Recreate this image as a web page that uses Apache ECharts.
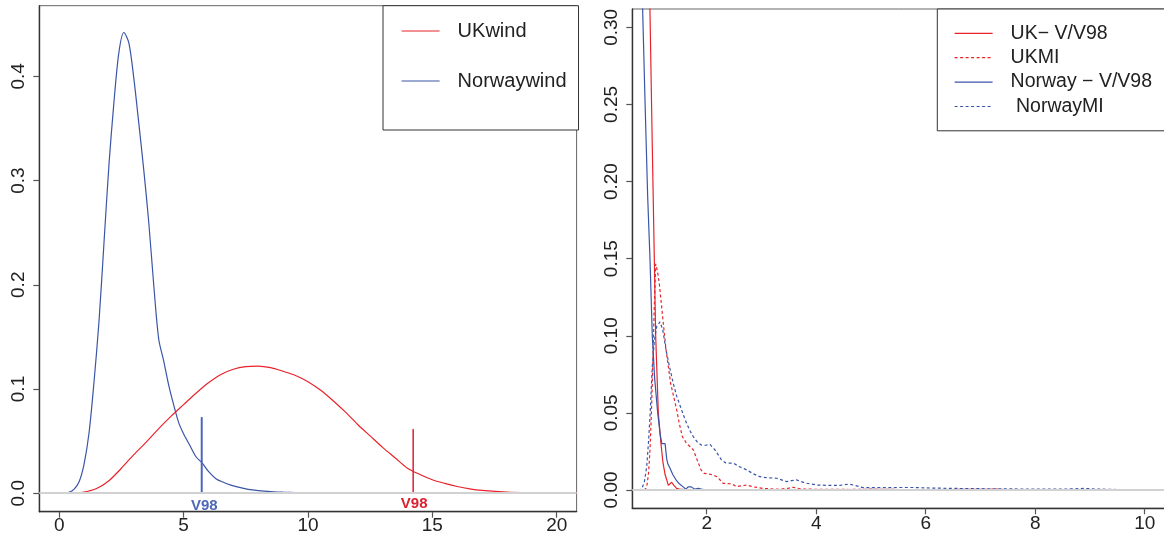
<!DOCTYPE html>
<html>
<head>
<meta charset="utf-8">
<script src="https://cdn.jsdelivr.net/npm/echarts@6.0.0/dist/echarts.min.js"></script>
<style>
html,body{margin:0;padding:0;background:#fff;}
#c{width:1164px;height:540px;}
</style>
</head>
<body>
<div id="c"></div>
<script>
// ---------------- data ----------------
// Left panel: wind speed densities
const ukWindX = [0.2,0.5,1.0,1.5,2.0,2.5,3.0,3.5,4.0,4.5,5.0,5.5,6.0,6.5,7.0,7.5,8.0,8.5,9.0,9.5,10.0,10.5,11.0,11.5,12.0,12.5,13.0,13.5,14.0,14.5,15.0,15.5,16.0,16.5,17.0,18.0,19.0,20.0,20.8];
const ukWindY = [0,0.0002,0.0012,0.0045,0.012,0.024,0.037,0.049,0.062,0.074,0.085,0.096,0.106,0.114,0.119,0.1215,0.122,0.1205,0.117,0.113,0.107,0.099,0.089,0.078,0.066,0.055,0.044,0.034,0.024,0.018,0.013,0.0095,0.0065,0.0042,0.0027,0.001,0.0004,0.0001,0.00005];

const norWindX = [0.12,0.4,0.6,0.8,1.0,1.2,1.4,1.6,1.8,2.0,2.2,2.4,2.6,2.8,3.0,3.2,3.4,3.6,3.8,4.0,4.2,4.4,4.6,4.8,5.0,5.25,5.5,5.75,6.0,6.3,6.6,6.9,7.2,7.6,8.0,8.5,9.0,10.0,11.0,11.77];
const norWindY = [0,0.001,0.004,0.011,0.028,0.058,0.107,0.165,0.24,0.315,0.375,0.423,0.442,0.432,0.398,0.355,0.31,0.26,0.2,0.148,0.127,0.104,0.085,0.068,0.057,0.046,0.035,0.029,0.021,0.014,0.0105,0.0078,0.0058,0.0038,0.0026,0.0016,0.001,0.0005,0.0002,0.0001];

// V98 markers (Norway, UK)
const v98X = [5.73, 14.23];
const v98Top = [0.0729, 0.0614];
const v98Labels = ['V98', 'V98'];

// Right panel: normalised densities
const ukRatioX = [0.85,0.93,0.964,1.0,1.043,1.068,1.116,1.165,1.2,1.24,1.3,1.33,1.36,1.4,1.45,1.5,1.6,1.7];
const ukRatioY = [1.0,0.4,0.31,0.235,0.15,0.10,0.05,0.03,0.018,0.01,0.003,0.0035,0.005,0.003,0.001,0.0005,0.0002,0.0001];

const norRatioX = [0.75,0.831,0.875,0.922,0.964,1.006,1.05,1.105,1.15,1.18,1.21,1.24,1.27,1.29,1.33,1.38,1.45,1.5,1.57,1.62,1.66,1.72,1.78,1.85,1.9,1.97];
const norRatioY = [0.6,0.31,0.25,0.19,0.15,0.10,0.072,0.05,0.036,0.03,0.031,0.03,0.02,0.017,0.014,0.01,0.006,0.004,0.002,0.0005,0.002,0.002,0.0005,0.001,0.0005,0];

const ukMIX = [0.65,0.85,0.89,0.915,0.94,0.964,0.985,1.006,1.037,1.068,1.1,1.134,1.165,1.196,1.257,1.342,1.4,1.452,1.5,1.555,1.635,1.7,1.755,1.82,1.896,1.95,2.03,2.1,2.19,2.3,2.45,2.55,2.65,2.73,2.85,3.03,3.34,3.5,3.58,3.7,3.8,4.2,4.6,5.0,5.5,6.0,6.5,7.0,7.3,7.45];
const ukMIY = [0,0,0.001,0.0043,0.012,0.026,0.045,0.069,0.112,0.1466,0.142,0.134,0.123,0.112,0.091,0.069,0.06,0.052,0.043,0.0346,0.030,0.028,0.026,0.02,0.013,0.0108,0.0104,0.0098,0.0086,0.0043,0.004,0.0022,0.0028,0.0032,0.002,0.001,0.0004,0.0012,0.0017,0.0008,0.0005,0.0004,0.0003,0.0005,0.0003,0.0002,0.0003,0.0004,0.0005,0.0002];

const norMIX = [0.65,0.75,0.81,0.86,0.904,0.935,0.964,0.985,1.006,1.045,1.087,1.147,1.196,1.257,1.32,1.39,1.45,1.5,1.57,1.635,1.7,1.755,1.83,1.91,1.98,2.06,2.15,2.27,2.35,2.49,2.6,2.73,2.85,2.97,3.1,3.28,3.46,3.55,3.64,3.8,4.01,4.2,4.43,4.6,4.7,4.85,5.2,5.55,5.8,6.0,6.5,7.0,7.5,8.0,8.5,8.9,9.1,9.5,10.0,10.9];
const norMIY = [0,0,0.0004,0.005,0.015,0.03,0.0475,0.064,0.08,0.097,0.106,0.109,0.104,0.0908,0.08,0.069,0.061,0.056,0.049,0.043,0.038,0.0346,0.031,0.029,0.029,0.0295,0.026,0.0195,0.0175,0.0173,0.015,0.013,0.0105,0.0086,0.0079,0.0076,0.0054,0.006,0.0065,0.0045,0.0032,0.003,0.003,0.0038,0.003,0.0015,0.0015,0.0016,0.0016,0.0013,0.001,0.0008,0.0007,0.0005,0.0005,0.001,0.0006,0.0003,0.0003,0.0002];

// tick labels
const leftXTicks = [0, 5, 10, 15, 20];
const leftYTicks = [0, 0.1, 0.2, 0.3, 0.4];
const rightXTicks = [2, 4, 6, 8, 10];
const rightYTicks = [0, 0.05, 0.10, 0.15, 0.20, 0.25, 0.30];

const leftLegend = ['UKwind', 'Norwaywind'];
const rightLegend = ['UK\u2212 V/V98', 'UKMI', 'Norway \u2212 V/V98', ' NorwayMI'];

// ---------------- chart ----------------
const zip = (xs, ys) => xs.map((x, i) => [x, ys[i]]);
const FONT = '"Liberation Sans", Arial, sans-serif';
const RED = '#e8232b';
const BLUE = '#3a55a8';
const TXT = '#222';

function xAxisCfg(grid, min, max, ticks, fmt, margin) {
  return {
    type: 'value', gridIndex: grid, min: min, max: max,
    axisLine: {show: true, onZero: false, lineStyle: {color: '#333', width: 1.4}},
    axisTick: {show: true, length: 6, customValues: ticks, lineStyle: {color: '#555', width: 1.2}},
    axisLabel: {show: true, customValues: ticks, formatter: fmt, fontSize: 19, fontFamily: FONT, color: TXT, margin: margin},
    splitLine: {show: false}
  };
}
function yAxisCfg(grid, min, max, ticks, fmt) {
  return {
    type: 'value', gridIndex: grid, min: min, max: max,
    axisLine: {show: true, onZero: false, lineStyle: {color: '#333', width: 1.4}},
    axisTick: {show: true, length: 6, customValues: ticks, lineStyle: {color: '#555', width: 1.2}},
    axisLabel: {show: true, customValues: ticks, formatter: fmt, rotate: 90, fontSize: 19, fontFamily: FONT, color: TXT, margin: 11},
    splitLine: {show: false}
  };
}
const zeroLine = {
  silent: true, symbol: 'none', animation: false,
  label: {show: false},
  lineStyle: {color: '#d2d2d2', width: 2, type: 'solid'},
  data: [{yAxis: 0}]
};

function v98Series(i, color, width, dist, off) {
  return {
    name: 'v98_' + i, type: 'line', xAxisIndex: 0, yAxisIndex: 0,
    symbol: 'circle', symbolSize: 1, showSymbol: true,
    lineStyle: {color: color, width: width}, itemStyle: {color: color},
    data: [
      {value: [v98X[i], 0], label: {show: true, position: 'bottom', distance: dist, offset: off, formatter: v98Labels[i],
        color: color, fontWeight: 'bold', fontSize: 15, fontFamily: FONT}},
      {value: [v98X[i], v98Top[i]]}
    ],
    z: 3
  };
}

const legendBase = {
  orient: 'vertical', selectedMode: false, itemWidth: 38, itemHeight: 20,
  borderColor: '#333', borderWidth: 1, backgroundColor: '#fff',
  itemStyle: {opacity: 0}, lineStyle: {width: 1.2}
};

const option = {
  animation: false,
  backgroundColor: '#fff',
  grid: [
    {left: 39.3, top: 5.7, width: 537.3, height: 506, show: true, borderColor: '#666', borderWidth: 1, containLabel: false, outerBoundsMode: 'none'},
    {left: 632.3, top: 9, width: 560, height: 499.3, show: true, borderColor: '#666', borderWidth: 1, containLabel: false, outerBoundsMode: 'none'}
  ],
  xAxis: [
    xAxisCfg(0, -0.8, 20.8, leftXTicks, v => String(v), 5),
    xAxisCfg(1, 0.641, 0.641 + 560 / 54.75, rightXTicks, v => String(v), 6)
  ],
  yAxis: [
    yAxisCfg(0, -0.0177, 0.4677, leftYTicks, v => v.toFixed(1)),
    yAxisCfg(1, -0.0119, 0.3119, rightYTicks, v => v.toFixed(2))
  ],
  legend: [
    Object.assign({}, legendBase, {
      data: leftLegend, left: 383, top: 5.7, padding: [15.3, 12, 39, 18], itemGap: 30,
      textStyle: {fontSize: 20, fontFamily: FONT, color: TXT, lineHeight: 20, padding: [0, 0, 0, 13]}
    }),
    Object.assign({}, legendBase, {
      data: rightLegend, left: 937.3, top: 9, padding: [14.3, 30, 14.3, 16.7], itemGap: 4.4,
      textStyle: {fontSize: 19.5, fontFamily: FONT, color: TXT, lineHeight: 20, padding: [0, 0, 0, 13]}
    })
  ],
  series: [
    {name: leftLegend[0], type: 'line', xAxisIndex: 0, yAxisIndex: 0, data: zip(ukWindX, ukWindY),
      symbol: 'none', showSymbol: false, smooth: 0.3, lineStyle: {color: RED, width: 1.2}, itemStyle: {color: RED},
      markLine: zeroLine, z: 2},
    {name: leftLegend[1], type: 'line', xAxisIndex: 0, yAxisIndex: 0, data: zip(norWindX, norWindY),
      symbol: 'none', showSymbol: false, smooth: 0.3, lineStyle: {color: BLUE, width: 1.2}, itemStyle: {color: BLUE}, z: 2},
    v98Series(0, '#4d68b8', 2, 5, [2.6, 0]),
    v98Series(1, '#dd2030', 1.5, 2.5, [1, 0]),
    {name: rightLegend[0], type: 'line', xAxisIndex: 1, yAxisIndex: 1, data: zip(ukRatioX, ukRatioY), clip: true,
      symbol: 'none', showSymbol: false, lineStyle: {color: RED, width: 1.2}, itemStyle: {color: RED},
      markLine: zeroLine, z: 2},
    {name: rightLegend[1], type: 'line', xAxisIndex: 1, yAxisIndex: 1, data: zip(ukMIX, ukMIY), clip: true,
      symbol: 'none', showSymbol: false, lineStyle: {color: RED, width: 1.2, type: [3, 2.5]}, itemStyle: {color: RED}, z: 2},
    {name: rightLegend[2], type: 'line', xAxisIndex: 1, yAxisIndex: 1, data: zip(norRatioX, norRatioY), clip: true,
      symbol: 'none', showSymbol: false, lineStyle: {color: BLUE, width: 1.2}, itemStyle: {color: BLUE}, z: 2},
    {name: rightLegend[3], type: 'line', xAxisIndex: 1, yAxisIndex: 1, data: zip(norMIX, norMIY), clip: true,
      symbol: 'none', showSymbol: false, lineStyle: {color: BLUE, width: 1.2, type: [3, 2.5]}, itemStyle: {color: BLUE}, z: 2}
  ]
};

const chart = echarts.init(document.getElementById('c'), null, {renderer: 'canvas'});
chart.setOption(option);
</script>
</body>
</html>
